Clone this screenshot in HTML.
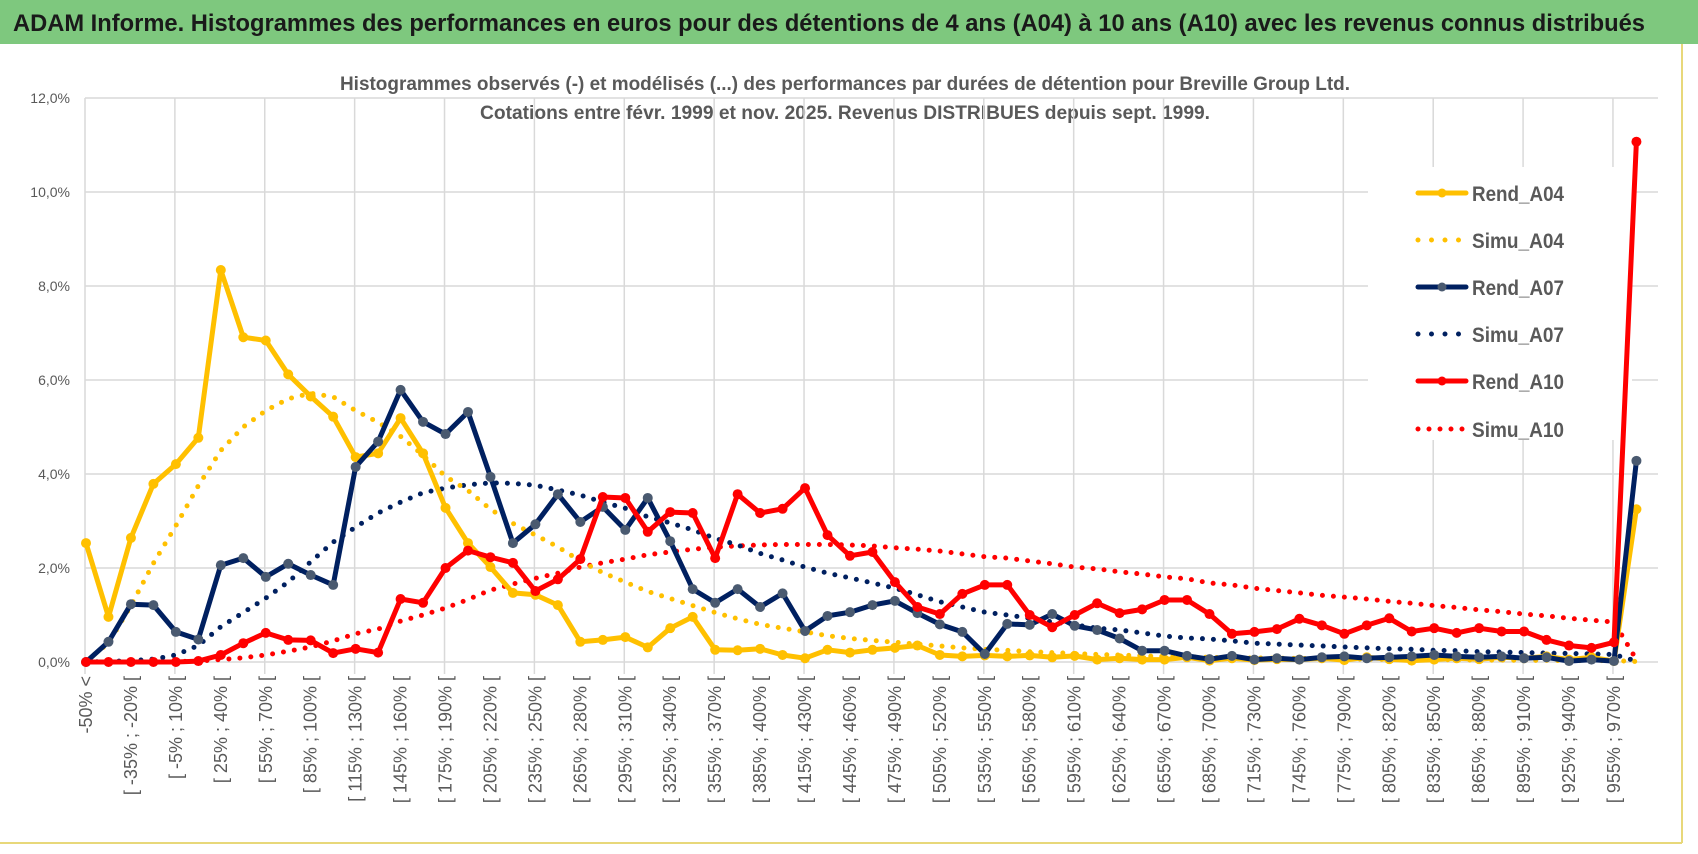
<!DOCTYPE html>
<html><head><meta charset="utf-8"><style>
html,body{margin:0;padding:0;background:#fff;}
svg{display:block;font-family:"Liberation Sans",sans-serif;}
</style></head><body>
<svg id="chart" width="1698" height="854" viewBox="0 0 1698 854" xmlns="http://www.w3.org/2000/svg">
<rect x="0" y="0" width="1698" height="854" fill="#fff"/>
<rect x="0" y="0" width="1698" height="44" fill="#7ec87e"/>
<text x="13" y="31" font-size="24" font-weight="bold" fill="#1a1a1a" textLength="1632" lengthAdjust="spacingAndGlyphs">ADAM Informe. Histogrammes des performances en euros pour des détentions de 4 ans (A04) à 10 ans (A10) avec les revenus connus distribués</text>
<line x1="1682" y1="44" x2="1682" y2="843" stroke="#e8d87a" stroke-width="2"/>
<line x1="0" y1="843" x2="1682" y2="843" stroke="#e8d87a" stroke-width="2"/>
<text x="845" y="90" font-size="19" font-weight="bold" fill="#595959" text-anchor="middle" textLength="1010" lengthAdjust="spacingAndGlyphs">Histogrammes observés (-) et modélisés (...) des performances par durées de détention pour Breville Group Ltd.</text>
<text x="845" y="119" font-size="19" font-weight="bold" fill="#595959" text-anchor="middle" textLength="730" lengthAdjust="spacingAndGlyphs">Cotations entre févr. 1999 et nov. 2025. Revenus DISTRIBUES depuis sept. 1999.</text>
<g id="grid"></g>
<g id="yaxis"></g>
<g id="xaxis"></g>
<g id="legend"></g>
<g id="series"></g>
</svg>
<script>
const categoriesCount = 70;
const yTicks = [0, 2, 4, 6, 8, 10, 12];
const yTickLabels = ["0,0%", "2,0%", "4,0%", "6,0%", "8,0%", "10,0%", "12,0%"];
const rendA04 = [2.53,0.96,2.64,3.79,4.21,4.77,8.34,6.91,6.84,6.12,5.65,5.22,4.36,4.44,5.19,4.44,3.28,2.53,2.02,1.47,1.43,1.21,0.43,0.47,0.53,0.31,0.72,0.96,0.26,0.25,0.28,0.15,0.08,0.26,0.2,0.26,0.3,0.35,0.15,0.12,0.14,0.12,0.14,0.1,0.13,0.05,0.08,0.05,0.05,0.1,0.03,0.08,0.04,0.06,0.05,0.08,0.04,0.1,0.06,0.03,0.05,0.08,0.06,0.1,0.08,0.12,0.05,0.1,0.02,3.25];
const simuA04 = [0.02,0.4,1.2,2.1,2.9,3.75,4.5,5.0,5.35,5.6,5.72,5.64,5.35,5.1,4.8,4.4,3.95,3.65,3.25,2.95,2.7,2.45,2.15,1.9,1.7,1.5,1.35,1.2,1.05,0.92,0.8,0.72,0.64,0.56,0.5,0.46,0.42,0.38,0.34,0.3,0.27,0.25,0.22,0.2,0.18,0.16,0.15,0.13,0.12,0.11,0.1,0.09,0.085,0.08,0.075,0.07,0.065,0.06,0.055,0.05,0.05,0.045,0.04,0.04,0.035,0.035,0.03,0.03,0.03,0.01];
const rendA07 = [0,0.43,1.23,1.21,0.64,0.48,2.06,2.21,1.81,2.09,1.85,1.64,4.15,4.69,5.79,5.11,4.85,5.32,3.94,2.53,2.93,3.57,2.98,3.3,2.81,3.49,2.57,1.55,1.26,1.55,1.17,1.46,0.66,0.98,1.06,1.21,1.3,1.04,0.8,0.64,0.17,0.81,0.79,1.02,0.77,0.68,0.5,0.24,0.24,0.13,0.06,0.13,0.05,0.08,0.05,0.1,0.12,0.08,0.1,0.12,0.15,0.12,0.1,0.12,0.08,0.1,0.02,0.05,0.02,4.28];
const simuA07 = [0,0.01,0.03,0.06,0.15,0.35,0.75,1.05,1.36,1.7,2.13,2.55,2.87,3.17,3.4,3.6,3.7,3.77,3.81,3.8,3.76,3.66,3.55,3.4,3.27,3.09,2.96,2.81,2.63,2.49,2.31,2.17,2.02,1.89,1.79,1.68,1.57,1.43,1.28,1.17,1.06,1.0,0.93,0.85,0.79,0.72,0.68,0.62,0.55,0.51,0.49,0.45,0.4,0.38,0.36,0.34,0.32,0.3,0.28,0.27,0.25,0.24,0.22,0.21,0.2,0.19,0.18,0.17,0.16,0.02];
const rendA10 = [0,0,0,0,0,0.02,0.15,0.4,0.62,0.47,0.46,0.19,0.28,0.2,1.34,1.26,2.0,2.37,2.23,2.11,1.51,1.76,2.19,3.51,3.49,2.77,3.19,3.17,2.21,3.57,3.17,3.26,3.7,2.7,2.26,2.34,1.7,1.17,1.02,1.45,1.64,1.64,1.0,0.74,1.0,1.25,1.04,1.12,1.32,1.32,1.02,0.6,0.64,0.7,0.92,0.78,0.6,0.78,0.93,0.65,0.72,0.62,0.72,0.65,0.65,0.47,0.35,0.3,0.42,11.07];
const simuA10 = [0,0,0,0,0.01,0.02,0.05,0.09,0.15,0.23,0.32,0.45,0.6,0.7,0.87,1.0,1.15,1.33,1.53,1.66,1.78,1.89,2.02,2.11,2.19,2.28,2.34,2.4,2.44,2.47,2.49,2.5,2.5,2.5,2.49,2.47,2.43,2.4,2.36,2.3,2.24,2.21,2.15,2.09,2.02,1.98,1.92,1.87,1.81,1.77,1.68,1.64,1.57,1.52,1.47,1.42,1.38,1.34,1.29,1.25,1.2,1.16,1.11,1.07,1.02,0.98,0.93,0.89,0.85,0.05];
const seriesNames = ["Rend_A04","Simu_A04","Rend_A07","Simu_A07","Rend_A10","Simu_A10"];

const NS = "http://www.w3.org/2000/svg";
const X0 = 86, DX = 22.47, Y0 = 662, PY = 47;
function xPos(i){ return X0 + i*DX; }
function yPos(v){ return Y0 - v*PY; }
function mk(tag, attrs, parent){ const e=document.createElementNS(NS,tag); for(const k in attrs) e.setAttribute(k,attrs[k]); parent.appendChild(e); return e; }
function catLabel(i){ if(i===0) return "-50% <"; const a=-50+15*(i-1); return "[ "+a+"% ; "+(a+15)+"% ["; }

const grid=document.getElementById('grid');
yTicks.forEach(t=>{
  const l=mk('line',{x1:85,x2:1658,y1:yPos(t),y2:yPos(t),stroke:'#d9d9d9','stroke-width':1.5},grid);
  
  
});
for(let i=0;i<categoriesCount;i+=4){
  const x=xPos(i)-1;
  const l=mk('line',{x1:x,x2:x,y1:yPos(12),y2:Y0+12,stroke:'#d9d9d9','stroke-width':1.5},grid);
  
  
}
const ya=document.getElementById('yaxis');
yTicks.forEach((t,k)=>{
  const tx=mk('text',{x:70,y:yPos(t)+5,'font-size':14,fill:'#595959','text-anchor':'end'},ya);
  tx.textContent=yTickLabels[k];
  
  
});
const xa=document.getElementById('xaxis');
for(let i=0;i<categoriesCount-1;i+=2){
  const x=xPos(i)+6, y=676;
  const tx=mk('text',{x:x,y:y,'font-size':18,fill:'#595959','text-anchor':'end',transform:'rotate(-90 '+x+' '+y+')'},xa);
  tx.textContent=catLabel(i);
  
  
}
const ser=document.getElementById('series');
function pts(arr){ return arr.map((v,i)=>xPos(i).toFixed(1)+','+yPos(v).toFixed(1)).join(' '); }
function dotted(arr,color,name){
  const p=mk('polyline',{points:pts(arr),fill:'none',stroke:color,'stroke-width':5,'stroke-linecap':'round','stroke-dasharray':'0 11'},ser);
  
  
}
function solid(arr,color,mcolor,name){
  const g=mk('g',{},ser);
  
  
  const p=mk('polyline',{points:pts(arr),fill:'none',stroke:color,'stroke-width':5,'stroke-linejoin':'round'},g);
  
  
  arr.forEach((v,i)=>{
    const c=mk('circle',{cx:xPos(i),cy:yPos(v),r:5,fill:mcolor},g);
    
    
  });
}
dotted(simuA10,'#ff0000','simu-a10-line');
dotted(simuA07,'#002060','simu-a07-line');
dotted(simuA04,'#ffc000','simu-a04-line');
solid(rendA04,'#ffc000','#ffc000','rend-a04-series');
solid(rendA07,'#002060','#4a5a70','rend-a07-series');
solid(rendA10,'#ff0000','#ff0000','rend-a10-series');

const lg=document.getElementById('legend');
const bg=mk('rect',{x:1368,y:167,width:264,height:273,fill:'#fff'},lg);


const lcolors=['#ffc000','#ffc000','#002060','#002060','#ff0000','#ff0000'];
const lmark=['#ffc000',null,'#4a5a70',null,'#ff0000',null];
const lys=[193,240,287,334,381,429];
seriesNames.forEach((n,k)=>{
  const g=mk('g',{},lg);
  
  
  const y=lys[k];
  if(lmark[k]){
    mk('line',{x1:1418,x2:1466,y1:y,y2:y,stroke:lcolors[k],'stroke-width':5,'stroke-linecap':'round'},g);
    mk('circle',{cx:1442,cy:y,r:4.5,fill:lmark[k]},g);
  } else {
    mk('line',{x1:1418,x2:1466,y1:y,y2:y,stroke:lcolors[k],'stroke-width':5,'stroke-linecap':'round','stroke-dasharray':'0 '+(k===5?11:13.5)},g);
  }
  const t=mk('text',{x:1472,y:y+8,'font-size':21,'font-weight':'bold',fill:'#595959',textLength:'92',lengthAdjust:'spacingAndGlyphs'},g);
  t.textContent=n;
  
  
});
</script>
</body></html>
